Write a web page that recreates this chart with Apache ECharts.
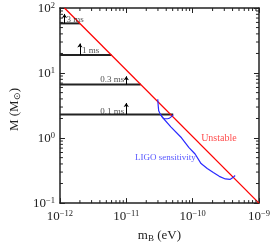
<!DOCTYPE html>
<html><head><meta charset="utf-8">
<script src="https://cdn.jsdelivr.net/npm/echarts@6/dist/echarts.min.js"></script>
<style>html,body{margin:0;padding:0;background:#fff}#c{width:273px;height:248px}</style>
</head><body><div id="c"></div>
<script>
// ---- data ----
const xRange = [1e-12, 1e-9];
const yRange = [0.1, 100];
const redLine = [[1.17e-12, 100], [1e-9, 0.1]];
const msLabels = ['3 ms', '1 ms', '0.3 ms', '0.1 ms'];
const msMass = [58, 18.9, 6.65, 2.3];
const msEnd = [2.0e-12, 5.97e-12, 1.65e-11, 5.1e-11];
const arrowX = [1.17e-12, 2.0e-12, 1e-11, 1e-11];
const arrowTop = [81, 28.4, 8.9, 3.45];
const labelM = [66.5, 22, 7.8, 2.58];
const labelSide = ['right', 'right', 'left', 'left'];
const ligoMain = [
  [2.98e-11, 3.95], [3.03e-11, 3.11], [3.08e-11, 2.62], [3.24e-11, 2.35], [3.50e-11, 2.09],
  [4.69e-11, 1.49], [6.79e-11, 1.01], [8.81e-11, 0.714], [1.089e-10, 0.569], [1.34e-10, 0.405],
  [1.66e-10, 0.341], [2.05e-10, 0.295], [2.52e-10, 0.258], [3.11e-10, 0.235], [3.65e-10, 0.231],
  [4.05e-10, 0.247], [4.37e-10, 0.266]
];
const ligoHook = [[3.24e-11, 2.35], [3.79e-11, 1.98], [4.45e-11, 2.02], [5.10e-11, 2.27]];
const unstablePos = [2.49e-10, 0.98];
const ligoLabelPos = [3.88e-11, 0.497];

// ---- helpers ----
const FONT = "'Liberation Serif','Times New Roman',serif";
const minorX = [], minorY = [];
for (let e = -12; e < -9; e++) for (let k = 2; k <= 9; k++) minorX.push([k * Math.pow(10, e), 1]);
for (let e = -1; e < 2; e++) for (let k = 2; k <= 9; k++) minorY.push([1e-11, k * Math.pow(10, e)]);

function powLabel(v) {
  const e = Math.round(Math.log10(v));
  return '{b|10}{s|' + String(e).replace('-', '\u2212') + '}';
}
const labelRich = {
  b: { fontFamily: FONT, fontSize: 13, color: '#222', lineHeight: 14, verticalAlign: 'bottom' },
  s: { fontFamily: FONT, fontSize: 8.5, color: '#222', lineHeight: 14, verticalAlign: 'top', padding: [0, 0, 6, 0] }
};
const axisLineStyle = { color: '#222', width: 1.5 };

const series = [];
series.push({
  type: 'line', data: redLine, symbol: 'none', silent: true,
  lineStyle: { color: '#ff0000', width: 1.3 }, z: 3
});
msMass.forEach((m, i) => {
  series.push({
    type: 'line', data: [[xRange[0], m], [msEnd[i], m]], symbol: 'none', silent: true,
    lineStyle: { color: '#222', width: 2 }, z: 2
  });
});
series.push({
  type: 'line', data: ligoMain, symbol: 'none', silent: true,
  lineStyle: { color: '#2a2aff', width: 1.2 }, z: 4
});
series.push({
  type: 'line', data: ligoHook, symbol: 'none', silent: true, smooth: 0.3,
  lineStyle: { color: '#2a2aff', width: 1.2 }, z: 4
});
series.push({
  type: 'lines', coordinateSystem: 'cartesian2d', silent: true,
  symbol: ['none', 'arrow'], symbolSize: [3, 4],
  lineStyle: { color: '#000', width: 1, opacity: 1 },
  data: arrowX.map((x, i) => ({ coords: [[x, msMass[i]], [x, arrowTop[i]]] })), z: 5
});
series.push({
  type: 'scatter', symbolSize: 0, silent: true,
  data: msLabels.map((t, i) => ({
    name: t, value: [arrowX[i], labelM[i]],
    label: { show: true, position: labelSide[i], distance: 2, formatter: '{b}',
      fontFamily: FONT, fontSize: 9, color: '#222' }
  })), z: 6
});
series.push({
  type: 'scatter', symbolSize: 0, silent: true,
  data: [
    { name: 'Unstable', value: unstablePos,
      label: { show: true, position: 'inside', formatter: '{b}', fontFamily: FONT, fontSize: 10, color: '#ff2020' } },
    { name: 'LIGO sensitivity', value: ligoLabelPos,
      label: { show: true, position: 'inside', formatter: '{b}', fontFamily: FONT, fontSize: 9, color: '#2a2aff' } }
  ], z: 6
});
function tickRender(isX) {
  return function (params, api) {
    const r = params.coordSys;
    const p = api.coord([api.value(0), api.value(1)]);
    const L = 3;
    const st = { stroke: '#222', lineWidth: 1 };
    if (isX) {
      return { type: 'group', children: [
        { type: 'line', shape: { x1: p[0], y1: r.y + r.height, x2: p[0], y2: r.y + r.height - L }, style: st },
        { type: 'line', shape: { x1: p[0], y1: r.y, x2: p[0], y2: r.y + L }, style: st }
      ] };
    }
    return { type: 'group', children: [
      { type: 'line', shape: { x1: r.x, y1: p[1], x2: r.x + L, y2: p[1] }, style: st },
      { type: 'line', shape: { x1: r.x + r.width, y1: p[1], x2: r.x + r.width - L, y2: p[1] }, style: st }
    ] };
  };
}
series.push({ type: 'custom', data: minorX, renderItem: tickRender(true), silent: true, clip: false, z: 7 });
series.push({ type: 'custom', data: minorY, renderItem: tickRender(false), silent: true, clip: false, z: 7 });

const chart = echarts.init(document.getElementById('c'), null, { renderer: 'canvas' });
chart.setOption({
  animation: false,
  backgroundColor: '#fff',
  grid: { left: 43, right: 11, top: 8, bottom: 37, containLabel: false },
  xAxis: [
    { type: 'log', min: xRange[0], max: xRange[1], logBase: 10, position: 'bottom',
      name: 'm{sub|B} (eV)', nameLocation: 'middle', nameGap: 20,
      nameTextStyle: { fontFamily: FONT, fontSize: 13, color: '#222',
        rich: { sub: { fontFamily: FONT, fontSize: 9, color: '#222', verticalAlign: 'bottom', padding: [6, 0, 0, 0] } } },
      axisLine: { show: true, lineStyle: axisLineStyle },
      axisTick: { show: true, inside: true, length: 5, lineStyle: { color: '#222', width: 1 } },
      axisLabel: { show: true, margin: 6, formatter: powLabel, rich: labelRich, showMinLabel: true, showMaxLabel: true },
      splitLine: { show: false }, minorTick: { show: false } },
    { type: 'log', min: xRange[0], max: xRange[1], logBase: 10, position: 'top',
      axisLine: { show: true, lineStyle: axisLineStyle },
      axisTick: { show: true, inside: true, length: 5, lineStyle: { color: '#222', width: 1 } },
      axisLabel: { show: false }, splitLine: { show: false } }
  ],
  yAxis: [
    { type: 'log', min: yRange[0], max: yRange[1], logBase: 10, position: 'left',
      name: 'M (M{sub|\u2299})', nameLocation: 'middle', nameGap: 29, nameRotate: 90,
      nameTextStyle: { fontFamily: FONT, fontSize: 13, color: '#222', padding: [0, 8, 0, 0],
        rich: { sub: { fontFamily: FONT, fontSize: 9, color: '#222', verticalAlign: 'bottom', padding: [6, 0, 0, 0] } } },
      axisLine: { show: true, lineStyle: axisLineStyle },
      axisTick: { show: true, inside: true, length: 5, lineStyle: { color: '#222', width: 1 } },
      axisLabel: { show: true, margin: 5, formatter: powLabel, rich: labelRich, showMinLabel: true, showMaxLabel: true },
      splitLine: { show: false } },
    { type: 'log', min: yRange[0], max: yRange[1], logBase: 10, position: 'right',
      axisLine: { show: true, lineStyle: axisLineStyle },
      axisTick: { show: true, inside: true, length: 5, lineStyle: { color: '#222', width: 1 } },
      axisLabel: { show: false }, splitLine: { show: false } }
  ],
  series: series
});
</script></body></html>
